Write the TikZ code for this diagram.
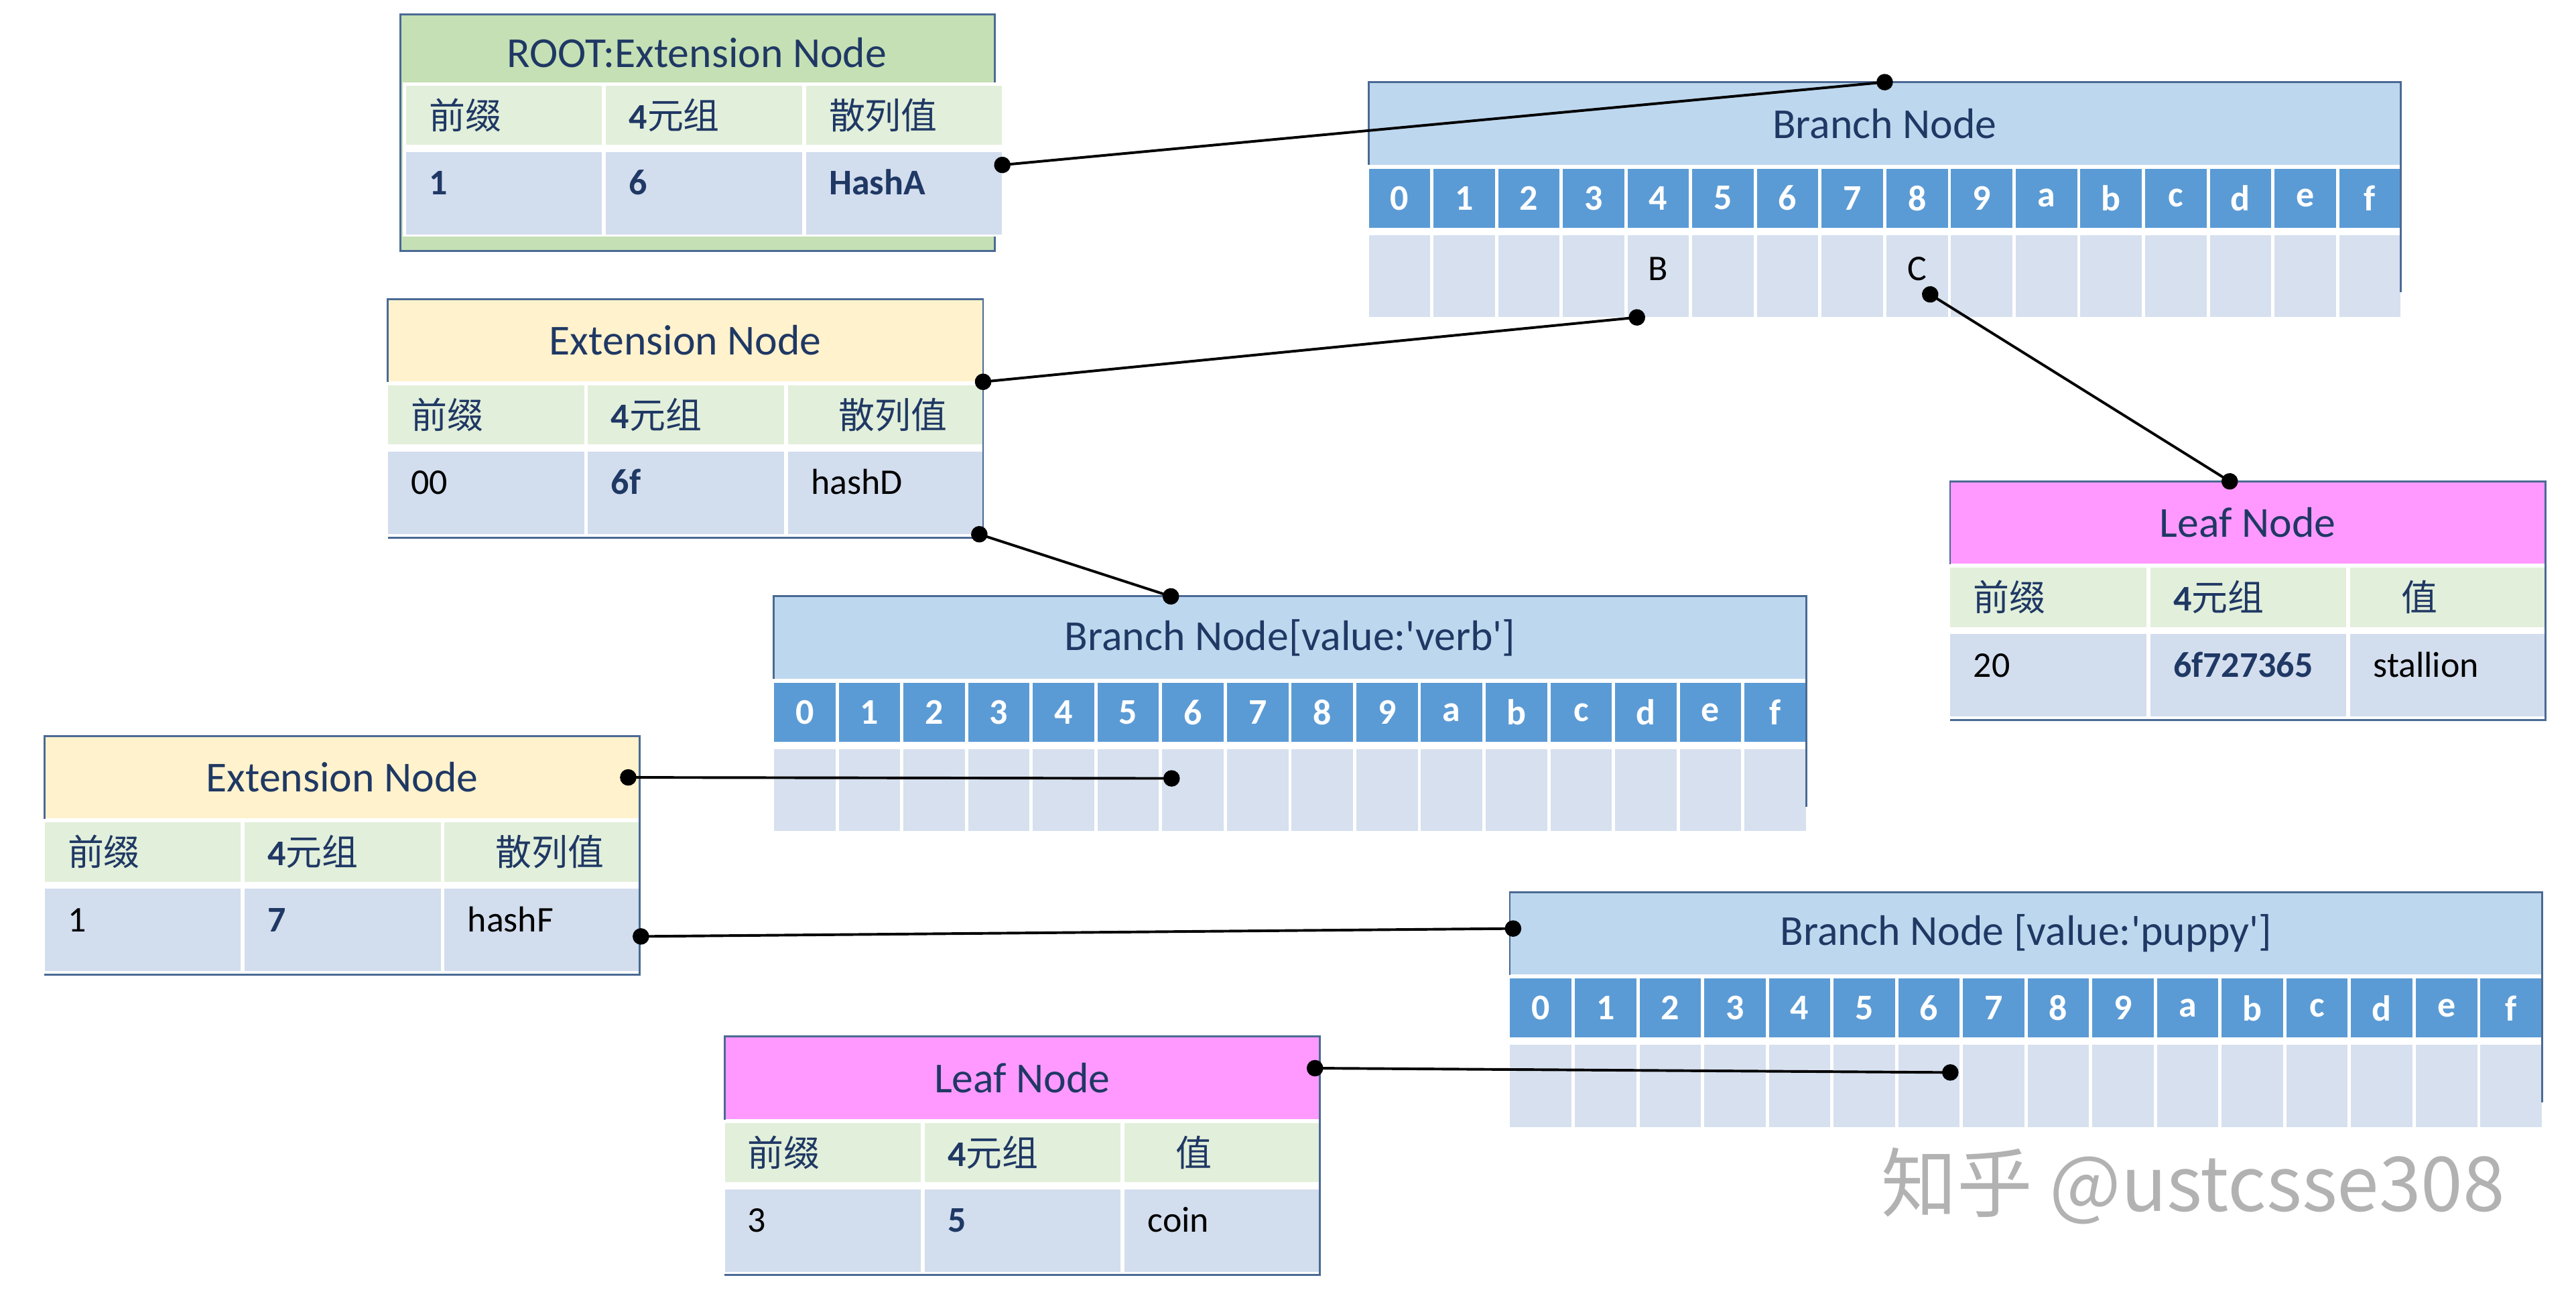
\documentclass[tikz,border=0pt]{standalone}
\usepackage{fontspec}
\setmainfont{Carlito}
\newfontfamily\cjk{Noto Sans CJK SC}
\usetikzlibrary{positioning}
\usetikzlibrary{arrows.meta}

\definecolor{navy}{HTML}{1F3864}
\definecolor{frame}{HTML}{4A6A94}
\definecolor{rootgreen}{HTML}{C5E0B4}
\definecolor{headgreen}{HTML}{E2EFDA}
\definecolor{rowblue}{HTML}{D2DDEE}
\definecolor{extyellow}{HTML}{FFF2CC}
\definecolor{leafpink}{HTML}{FF99FF}
\definecolor{branchblue}{HTML}{BDD7EE}
\definecolor{idxblue}{HTML}{5B9BD5}
\definecolor{slotblue}{HTML}{D6E0EF}

\begin{document}
\begin{tikzpicture}[x=1pt, y=-1pt,
    title/.style={text=navy, font=\fontsize{26}{30}\selectfont, minimum width=362pt, minimum height=50pt, inner sep=0pt, anchor=north west},
    head/.style={fill=headgreen, text=navy, font=\fontsize{22}{26}\selectfont, text width=91.3pt, inner xsep=14pt, inner ysep=0pt, minimum height=36pt, align=left},
    cell/.style={fill=rowblue, font=\fontsize{22}{26}\selectfont, text width=91.3pt, inner xsep=14pt, inner ysep=6pt, text height=20pt, text depth=18pt, align=left},
    key/.style={text=navy, font=\fontsize{22}{26}\selectfont\bfseries},
    idx/.style={fill=idxblue, text=white, font=\fontsize{22}{26}\selectfont\bfseries, minimum width=37.375pt, minimum height=36pt, inner sep=0pt, anchor=north west},
    slot/.style={fill=slotblue, minimum width=37.375pt, minimum height=50pt, inner sep=0pt},
    rim/.style={draw=frame, line width=1.2pt},
    link/.style={line width=1.6pt, {Circle[length=10pt]}-{Circle[length=10pt]}, shorten <=-5pt, shorten >=-5pt}]
    \useasboundingbox (0,0) rectangle (1568,785);

    % root
    \node[rim, fill=rootgreen, minimum width=362pt, minimum height=144pt, inner sep=0pt, anchor=north west] (root) at (243,8) {};
    \node[title, minimum height=42pt] (rootT) at (243,11) {ROOT:Extension Node};
    \fill[white] (245,50) rectangle (611,144);
    \node[head, anchor=north west] (root-h1) at (247,52) {{\cjk 前缀}};
    \node[head, right=2pt of root-h1] (root-h2) {\textbf{4}{\cjk 元组}};
    \node[head, right=2pt of root-h2] (root-h3) {{\cjk 散列值}};
    \node[cell, key, below=4pt of root-h1] (root-d1) {1};
    \node[cell, key, right=2pt of root-d1] (root-d2) {6};
    \node[cell, key, right=2pt of root-d2] (root-d3) {HashA};

    % branch nodes
    \node[title, fill=branchblue, minimum width=628pt] (br1) at (833,50) {Branch Node};
    \node[title, fill=branchblue, minimum width=628pt] (br2) at (471,363) {Branch Node[value:\textquotesingle verb\textquotesingle]};
    \node[title, fill=branchblue, minimum width=628pt] (br3) at (919,543) {Branch Node [value:\textquotesingle puppy\textquotesingle]};
    \foreach \t in {br1,br2,br3}
        \foreach \c [count=\n from 0] in {0,1,2,3,4,5,6,7,8,9,a,b,c,d,e,f} {
            \node[idx] (\t-i\n) at ([xshift=\n*39.375pt, yshift=-2pt]\t.south west) {\c};
            \node[slot, below=4pt of \t-i\n] (\t-v\n) {};
        }
    \node[anchor=base, font=\fontsize{22}{26}\selectfont] (slotB) at ([yshift=-28pt]br1-v4.north) {B};
    \node[anchor=base, font=\fontsize{22}{26}\selectfont] (slotC) at ([yshift=-28pt]br1-v8.north) {C};

    % extension nodes
    \node[title, fill=extyellow] (ext1) at (236,182) {Extension Node};
    \node[head, below right=2pt and 0pt of ext1.south west] (ext1-h1) {{\cjk 前缀}};
    \node[head, right=2pt of ext1-h1] (ext1-h2) {\textbf{4}{\cjk 元组}};
    \node[head, right=2pt of ext1-h2] (ext1-h3) {\hspace*{17pt}{\cjk 散列值}};
    \node[cell, below=4pt of ext1-h1] (ext1-d1) {00};
    \node[cell, key, right=2pt of ext1-d1] (ext1-d2) {6f};
    \node[cell, right=2pt of ext1-d2] (ext1-d3) {hashD};

    \node[title, fill=extyellow] (ext2) at (27,448) {Extension Node};
    \node[head, below right=2pt and 0pt of ext2.south west] (ext2-h1) {{\cjk 前缀}};
    \node[head, right=2pt of ext2-h1] (ext2-h2) {\textbf{4}{\cjk 元组}};
    \node[head, right=2pt of ext2-h2] (ext2-h3) {\hspace*{17pt}{\cjk 散列值}};
    \node[cell, below=4pt of ext2-h1] (ext2-d1) {1};
    \node[cell, key, right=2pt of ext2-d1] (ext2-d2) {7};
    \node[cell, right=2pt of ext2-d2] (ext2-d3) {hashF};

    % leaf nodes
    \node[title, fill=leafpink] (leaf1) at (1187,293) {Leaf Node};
    \node[head, below right=2pt and 0pt of leaf1.south west] (leaf1-h1) {{\cjk 前缀}};
    \node[head, right=2pt of leaf1-h1] (leaf1-h2) {\textbf{4}{\cjk 元组}};
    \node[head, right=2pt of leaf1-h2] (leaf1-h3) {\hspace*{17pt}{\cjk 值}};
    \node[cell, below=4pt of leaf1-h1] (leaf1-d1) {20};
    \node[cell, key, right=2pt of leaf1-d1] (leaf1-d2) {6f727365};
    \node[cell, right=2pt of leaf1-d2] (leaf1-d3) {stallion};

    \node[title, fill=leafpink] (leaf2) at (441,631) {Leaf Node};
    \node[head, below right=2pt and 0pt of leaf2.south west] (leaf2-h1) {{\cjk 前缀}};
    \node[head, right=2pt of leaf2-h1] (leaf2-h2) {\textbf{4}{\cjk 元组}};
    \node[head, right=2pt of leaf2-h2] (leaf2-h3) {\hspace*{17pt}{\cjk 值}};
    \node[cell, below=4pt of leaf2-h1] (leaf2-d1) {3};
    \node[cell, key, right=2pt of leaf2-d1] (leaf2-d2) {5};
    \node[cell, right=2pt of leaf2-d2] (leaf2-d3) {coin};

    % frames
    \foreach \t in {ext1,ext2,leaf1,leaf2}
        \draw[rim] (\t.south west) -- (\t.north west) -- (\t.north east) |- ([yshift=-2pt]\t-d1.south west);
    \foreach \t in {br1,br2,br3}
        \draw[rim] (\t.south west) -- (\t.north west) -- (\t.north east) -- (\t.north east |- \t-v15.center) -- ++(0,10);

    % links
    \draw[link] ([yshift=-8pt]root-d3.north east) -- (br1.north);
    \draw[link] (ext1.south east) -- ([xshift=-13pt]br1-v4.south);
    \draw[link] ([xshift=8pt, yshift=14pt]br1-v8.south) -- ([xshift=-11pt]leaf1.north);
    \draw[link] ([xshift=-3pt]ext1-d3.south east) -- ([xshift=-72.5pt]br2.north);
    \draw[link] ([xshift=-7pt]ext2.east) -- ([xshift=-13pt, yshift=-18pt]br2-v6.north);
    \draw[link] ([yshift=-4pt]ext2-d3.east) -- ([xshift=2pt, yshift=3pt]br3.west);
    \draw[link] ([xshift=-3pt, yshift=6pt]leaf2.east) -- ([xshift=13pt, yshift=-17pt]br3-v6.north);

    \node[text=black!30, font=\cjk\fontsize{46}{50}\selectfont] (mark) at (1335,722) {知乎 @ustcsse308};
\end{tikzpicture}
\end{document}
